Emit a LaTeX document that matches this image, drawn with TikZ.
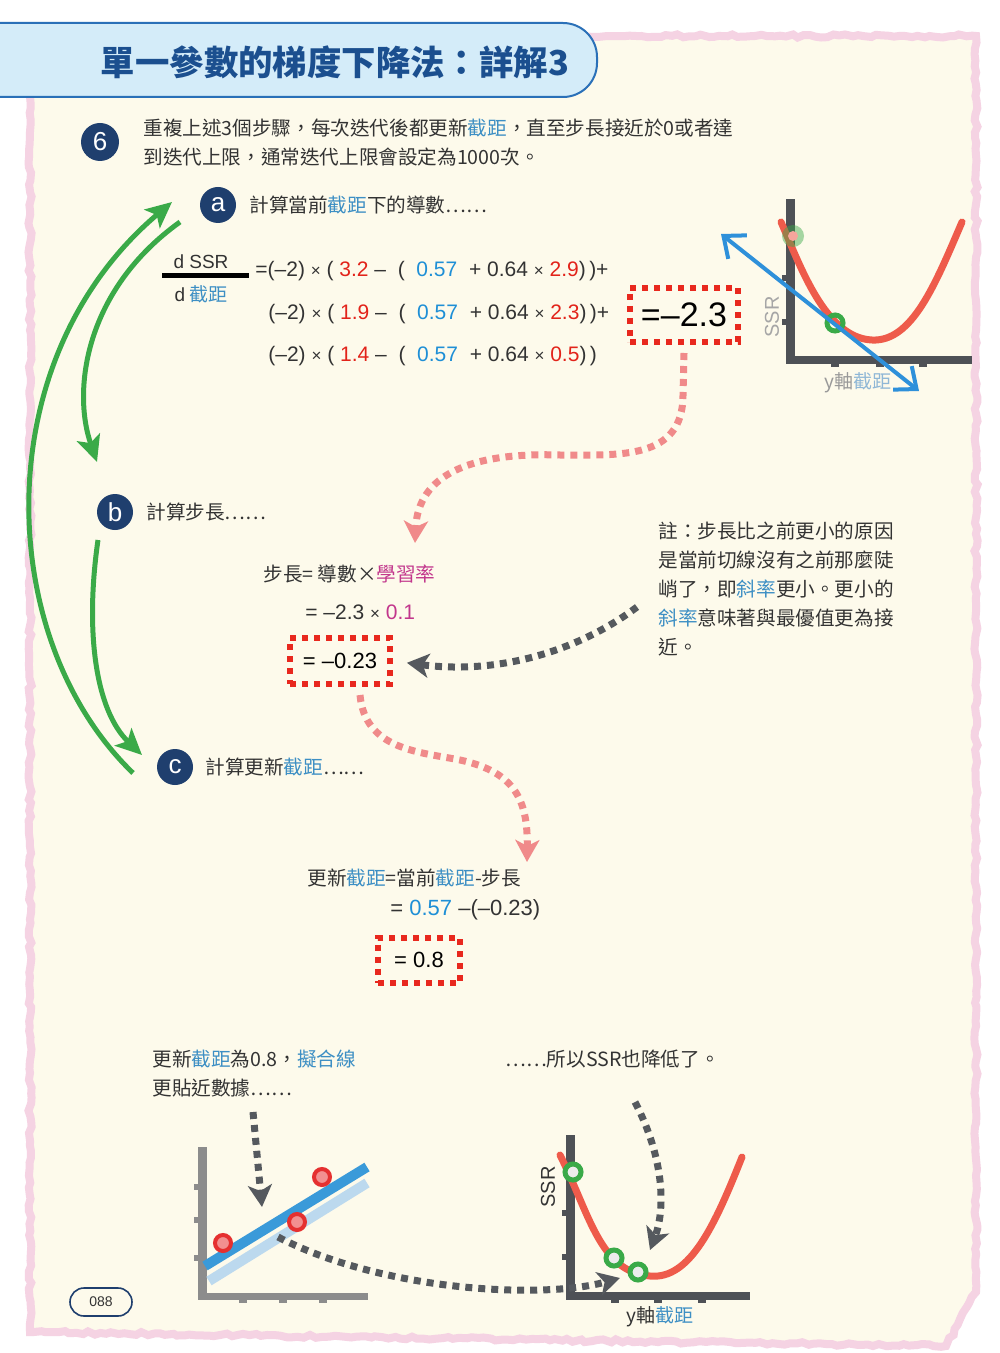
\documentclass[tikz,border=0pt]{standalone}
\usepackage{fontspec}
\setmainfont{Noto Sans CJK TC}
\newfontfamily\lsans{Liberation Sans}
\usetikzlibrary{arrows.meta,decorations.pathmorphing}

\definecolor{navy}{HTML}{1F3F6E}
\definecolor{titletext}{HTML}{1B4F8F}
\definecolor{titlefill}{HTML}{D4ECF9}
\definecolor{titleedge}{HTML}{2A70B8}
\definecolor{cream}{HTML}{FDFAEB}
\definecolor{pinkedge}{HTML}{F5D3E3}
\definecolor{txt}{HTML}{333333}
\definecolor{icptblue}{HTML}{3D8FC4}
\definecolor{icptpale}{HTML}{8FB7D6}
\definecolor{curblue}{HTML}{1E8FD6}
\definecolor{obsred}{HTML}{E2231A}
\definecolor{lrmag}{HTML}{C2368C}
\definecolor{redbox}{HTML}{E8281E}
\definecolor{pinkarrow}{HTML}{F08A8A}
\definecolor{grayarrow}{HTML}{55595E}
\definecolor{loopgreen}{HTML}{3AAA48}
\definecolor{curvered}{HTML}{EE5B4B}
\definecolor{axisdark}{HTML}{4E5156}
\definecolor{axisgray}{HTML}{8C8C8C}
\definecolor{tangentblue}{HTML}{2E90DA}
\definecolor{bandblue}{HTML}{3A9AD9}
\definecolor{bandpale}{HTML}{BCD9EE}
\definecolor{ptred}{HTML}{E53030}
\definecolor{ptpink}{HTML}{F29090}

\newcommand\icpt[1]{\textcolor{icptblue}{#1}}
\newcommand\obs[1]{\textcolor{obsred}{#1}}
\newcommand\cur[1]{\textcolor{curblue}{#1}}
\newcommand\lrate[1]{\textcolor{lrmag}{#1}}
\newcommand\byx{{\fontsize{8.5}{8.5}\selectfont ×}}

\tikzset{
  badge/.style={circle,fill=navy,text=white,minimum size=18pt,inner sep=0pt,
    font=\lsans\fontsize{13}{13}\selectfont},
  body/.style={anchor=west,inner sep=0pt,text=txt,align=left,
    font=\fontsize{9.8}{14.5}\selectfont},
  formula/.style={anchor=west,inner sep=0pt,text=txt,
    font=\lsans\fontsize{10.5}{12}\selectfont},
  resultbox/.style={draw=redbox,line width=3pt,dash pattern=on 3pt off 3pt,
    inner sep=0pt,text=black},
  pinkflow/.style={draw=pinkarrow,line width=3.5pt,dash pattern=on 3.5pt off 3pt,
    -{Stealth[length=11pt,width=12pt,inset=3pt]}},
  grayflow/.style={draw=grayarrow,line width=3.5pt,dash pattern=on 3.5pt off 3pt,
    -{Stealth[length=11pt,width=12pt,inset=3pt]}},
  loop/.style={draw=loopgreen,line width=2.5pt,
    -{Stealth[length=13pt,width=12pt,inset=3pt]}},
  curve/.style={draw=curvered,line width=3.5pt,line cap=round},
  ring/.style={draw=loopgreen,line width=2.5pt},
}

\begin{document}
\begin{tikzpicture}[x=0.5pt,y=-0.5pt]
\useasboundingbox (0,0) rectangle (1000,1353);
\fill[white] (0,0) rectangle (1000,1353);
% page
\filldraw[fill=cream,draw=pinkedge,line width=4pt,decorate,
  decoration={random steps,segment length=3pt,amplitude=0.8pt}]
  (30,36) -- (976,36) -- (976,1292) -- (946,1346) -- (30,1332) -- cycle;
\draw[fill=titlefill,draw=titleedge,line width=1pt,rounded corners=17pt]
  (-10,23) -- (597,23) -- (597,97) -- (-10,97);
\node[font=\bfseries\fontsize{17.2}{17.2}\selectfont,text=titletext] (title) at (335,62) {單一參數的梯度下降法：詳解3};

% step 6
\node[badge,minimum size=19pt] (six) at (100,142) {6};
\node[body] (sixtxt) at (143,143) {重複上述3個步驟，每次迭代後都更新\icpt{截距}，直至步長接近於0或者達\\到迭代上限，通常迭代上限會設定為1000次。};

% a
\node[badge] (a) at (218,205) {a};
\node[body] (atxt) at (249,205) {計算當前\icpt{截距}下的導數……};
\node[font=\lsans\fontsize{9.5}{10}\selectfont,text=txt] (num) at (201,262) {d SSR};
\node[font=\fontsize{9.5}{10}\selectfont,text=txt] (den) at (201,294) {{\lsans d} \icpt{截距}};
\draw[line width=2.5pt] (162,276) -- (249,276);
\node[formula] (la) at (255,271) {=(–2) \byx\ ( \obs{3.2} –\ \ (\ \ \cur{0.57}\ \ + 0.64 \byx\ \obs{2.9})\,)+};
\node[formula] (lb) at (268,314) {(–2) \byx\ ( \obs{1.9} –\ \ (\ \ \cur{0.57}\ \ + 0.64 \byx\ \obs{2.3})\,)+};
\node[formula] (lc) at (268,356) {(–2) \byx\ ( \obs{1.4} –\ \ (\ \ \cur{0.57}\ \ + 0.64 \byx\ \obs{0.5})\,)};
\node[resultbox,minimum width=54pt,minimum height=27pt,font=\lsans\fontsize{17}{17}\selectfont] (res1) at (684,315) {=–2.3};

% slope sketch, top right
\fill[axisdark] (786,199) rectangle (795,363);
\fill[axisdark] (786,356) rectangle (972,364);
\foreach \y in {278,322} \fill[axisdark] (782,\y-3) rectangle (787,\y+3);
\foreach \x in {835,880,923} \fill[axisdark] (\x-4,363) rectangle (\x+4,367);
\draw[curve] (781,222) .. controls (800,265) and (825,338) .. (872,340) .. controls (912,342) and (935,285) .. (962,222);
\fill[loopgreen,opacity=0.45] (793,236) circle (11);
\fill[curvered!55] (793,236) circle (5);
\draw[ring] (835,323) circle (8);
\draw[draw=tangentblue,line width=2pt,
  {Straight Barb[length=9pt,width=15pt]}-{Straight Barb[length=9pt,width=15pt]}]
  (721,234) -- (919,391);
\node[rotate=90,font=\lsans\fontsize{10}{10}\selectfont,text=gray!70] (ssra) at (772,317) {SSR};
\node[font=\fontsize{9.5}{10}\selectfont,text=gray!80] (yaxa) at (858,383) {y軸\textcolor{icptpale}{截距}};

% b
\node[badge] (b) at (115,512) {b};
\node[body] (btxt) at (146,512) {計算步長……};
\node[body] (step) at (263,574) {步長= 導數×\lrate{學習率}};
\node[formula] (stepb) at (305,612) {= –2.3 \byx\ \lrate{0.1}};
\node[resultbox,minimum width=50pt,minimum height=23pt,font=\lsans\fontsize{11}{11}\selectfont] (res2) at (340,661) {= –0.23};
\node[body] (note) at (658,589.5) {註：步長比之前更小的原因\\是當前切線沒有之前那麼陡\\峭了，即\icpt{斜率}更小。更小的\\\icpt{斜率}意味著與最優值更為接\\近。};

% c
\node[badge] (c) at (175,767) {c};
\node[body] (ctxt) at (205,767) {計算更新\icpt{截距}……};
\node[body] (upd) at (307,878) {更新\icpt{截距}=當前\icpt{截距}-步長};
\node[formula,font=\lsans\fontsize{11}{12}\selectfont] (updb) at (390,910) {= \cur{0.57} –(–0.23)};
\node[resultbox,minimum width=41pt,minimum height=22.5pt,font=\lsans\fontsize{11}{11}\selectfont] (res3) at (419,960) {= 0.8};

% free ends
\coordinate (aIn) at (172,202);
\coordinate (aOut) at (180,222);
\coordinate (bIn) at (97,462);
\coordinate (bOut) at (98,540);
\coordinate (cIn) at (142,755);
\coordinate (cOut) at (133,773);
\coordinate (stepIn) at (415,543);
\coordinate (noteOut) at (637,607);
\coordinate (updIn) at (527,862);

% loop arrows
\draw[loop] (cOut) .. controls (-5,640) and (-15,360) .. (aIn);
\draw[loop] (aOut) .. controls (85,290) and (72,390) .. (bIn);
\draw[loop] (bOut) .. controls (85,630) and (95,710) .. (cIn);

% flow arrows
\draw[pinkflow] (res1.south) ++(0,8) -- (683,395) .. controls (683,460) and (620,455) .. (560,455) .. controls (470,452) and (418,475) .. (stepIn);
\draw[grayflow,shorten >=7pt] (noteOut) .. controls (580,650) and (500,675) .. (res2.east);
\draw[pinkflow] ([xshift=10pt]res2.south) ++(0,8) .. controls (365,750) and (420,752) .. (460,760) .. controls (515,772) and (528,800) .. (updIn);

% bottom
\node[body] (fit) at (152,1074) {更新\icpt{截距}為0.8，\icpt{擬合線}\\更貼近數據……};
\node[body] (drop) at (505,1059) {……所以SSR也降低了。};

% fit sketch
\fill[axisgray] (198,1147) rectangle (207,1299);
\fill[axisgray] (198,1293) rectangle (368,1300);
\foreach \y in {1187,1220,1258} \fill[axisgray] (194,\y-3) rectangle (199,\y+3);
\foreach \x in {243,283,323} \fill[axisgray] (\x-4,1299) rectangle (\x+4,1303);
\draw[bandpale,line width=5pt] (209,1281) -- (367,1183);
\draw[bandblue,line width=5pt] (205,1266) -- (367,1167);
\foreach \p in {(223,1243),(297,1222),(322,1177)}
  \filldraw[fill=ptpink,draw=ptred,line width=2pt] \p circle (8);

% SSR sketch
\fill[axisdark] (566,1135) rectangle (575,1299);
\fill[axisdark] (566,1292) rectangle (750,1300);
\foreach \y in {1213,1257} \fill[axisdark] (562,\y-3) rectangle (567,\y+3);
\foreach \x in {615,658,702} \fill[axisdark] (\x-4,1299) rectangle (\x+4,1303);
\draw[curve] (560,1155) .. controls (590,1215) and (600,1272) .. (650,1276) .. controls (690,1280) and (715,1225) .. (742,1157);
\foreach \p in {(573,1172),(614,1258),(638,1272)}
  \filldraw[ring,fill=gray!15] \p circle (8);
\node[rotate=90,font=\lsans\fontsize{10}{10}\selectfont,text=txt] (ssrb) at (548,1187) {SSR};
\node[font=\fontsize{9.5}{10}\selectfont,text=txt] (yaxb) at (660,1317) {y軸\icpt{截距}};

\coordinate (fitTop) at (253,1112);
\coordinate (fitIn) at (262,1207);
\coordinate (fitOut) at (278,1237);
\coordinate (ssrIn) at (620,1278);
\coordinate (dropTop) at (635,1102);
\coordinate (dropIn) at (650,1250);
\draw[grayflow] (fitTop) -- (fitIn);
\draw[grayflow] (fitOut) .. controls (380,1290) and (540,1300) .. (ssrIn);
\draw[grayflow] (dropTop) .. controls (665,1160) and (665,1210) .. (dropIn);

% page number
\node[draw=navy,line width=0.8pt,rounded corners=7pt,minimum width=31pt,minimum height=14pt,
  font=\lsans\fontsize{7}{7}\selectfont,text=txt] (pg) at (101,1302) {088};
\end{tikzpicture}
\end{document}
